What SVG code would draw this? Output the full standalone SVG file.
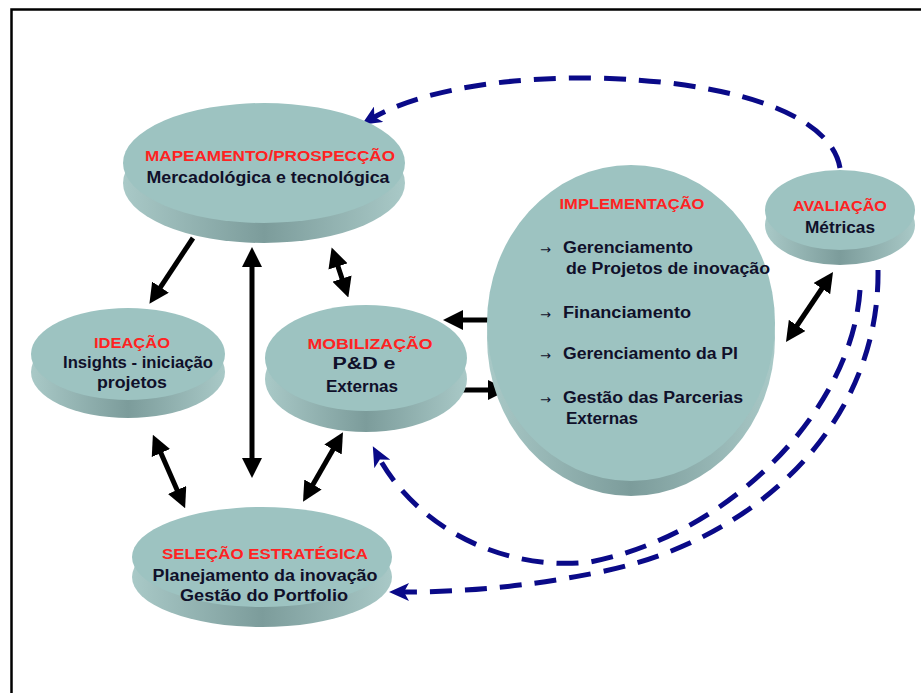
<svg xmlns="http://www.w3.org/2000/svg" width="921" height="693" viewBox="0 0 921 693">
<style>
.face{fill:#9DC3C1}
.rim{fill:url(#rimg)}
.t{font-family:"Liberation Sans",Arial,sans-serif;font-weight:bold;text-anchor:middle}
.red{fill:#FF2222;font-size:14px}
.blk{fill:#10102A;font-size:16px}
.lft{text-anchor:start}
.bul{font-family:"DejaVu Sans",sans-serif;font-size:13px;fill:#10102A}
.ba{stroke:#000;stroke-width:5;fill:none}
.da{stroke:#0A0A88;stroke-width:5;fill:none;stroke-dasharray:22 13}
</style>
<defs>
<linearGradient id="rimg" x1="0" y1="0" x2="1" y2="0">
<stop offset="0" stop-color="#A9C9C7"/>
<stop offset="0.5" stop-color="#7C9C9B"/>
<stop offset="1" stop-color="#A9C9C7"/>
</linearGradient>
<marker id="bh" markerUnits="userSpaceOnUse" markerWidth="20" markerHeight="20" refX="11" refY="10" orient="auto-start-reverse">
<path d="M0,0 L20,10 L0,20 Z" fill="#000"/>
</marker>
<marker id="nh" markerUnits="userSpaceOnUse" markerWidth="20" markerHeight="18" refX="9" refY="9" orient="auto">
<path d="M0,0 L20,9 L0,18 L5,9 Z" fill="#0A0A88"/>
</marker>
</defs>
<rect width="921" height="693" fill="#fff"/>
<path d="M11.5 693 V9.5 H921" fill="none" stroke="#000" stroke-width="2.5"/>

<g id="connectors">
<line class="ba" x1="193" y1="238" x2="154.4" y2="296.3" marker-end="url(#bh)"/>
<line class="ba" x1="252" y1="256" x2="252" y2="469" marker-start="url(#bh)" marker-end="url(#bh)"/>
<line class="ba" x1="334.5" y1="256" x2="345.5" y2="289" marker-start="url(#bh)" marker-end="url(#bh)"/>
<line class="ba" x1="156.5" y1="443" x2="181.5" y2="500" marker-start="url(#bh)" marker-end="url(#bh)"/>
<line class="ba" x1="338.5" y1="440" x2="307.5" y2="494" marker-start="url(#bh)" marker-end="url(#bh)"/>
<line class="ba" x1="488" y1="320" x2="452" y2="320" marker-end="url(#bh)"/>
<line class="ba" x1="462" y1="390" x2="499" y2="390" marker-end="url(#bh)"/>
<line class="ba" x1="828" y1="279.5" x2="791" y2="334.5" marker-start="url(#bh)" marker-end="url(#bh)"/>
<path class="da" d="M840 168 C830 110 720 80 590 78 C480 77 405 98 371 119" marker-end="url(#nh)"/>
<path class="da" d="M860 290 C852 410 730 535 590 562 C500 572 415 525 378 456" marker-end="url(#nh)"/>
<path class="da" d="M878 270 C880 420 760 540 600 572 C520 588 460 592 400 592" marker-end="url(#nh)"/>
</g>

<g id="mapeamento">
<ellipse class="rim" cx="264" cy="183" rx="141" ry="60"/>
<ellipse class="face" cx="264" cy="163" rx="141" ry="60"/>
<text class="t red" x="270" y="161" textLength="250" lengthAdjust="spacingAndGlyphs">MAPEAMENTO/PROSPECÇÃO</text>
<text class="t blk" x="268" y="183" textLength="243" lengthAdjust="spacingAndGlyphs">Mercadológica e tecnológica</text>
</g>

<g id="ideacao">
<ellipse class="rim" cx="128" cy="372" rx="97" ry="46"/>
<ellipse class="face" cx="128" cy="354" rx="97" ry="46"/>
<text class="t red" x="132" y="348" textLength="76" lengthAdjust="spacingAndGlyphs">IDEAÇÃO</text>
<text class="t blk" x="138" y="368" textLength="150" lengthAdjust="spacingAndGlyphs">Insights - iniciação</text>
<text class="t blk" x="132" y="388" textLength="70" lengthAdjust="spacingAndGlyphs">projetos</text>
</g>

<g id="mobilizacao">
<ellipse class="rim" cx="366" cy="379" rx="101" ry="53"/>
<ellipse class="face" cx="366" cy="358" rx="101" ry="53"/>
<text class="t red" x="370" y="349" textLength="125" lengthAdjust="spacingAndGlyphs">MOBILIZAÇÃO</text>
<text class="t blk" x="364" y="369" textLength="63" lengthAdjust="spacingAndGlyphs">P&amp;D e</text>
<text class="t blk" x="362" y="392" textLength="72" lengthAdjust="spacingAndGlyphs">Externas</text>
</g>

<g id="selecao">
<ellipse class="rim" cx="262" cy="577" rx="130" ry="50"/>
<ellipse class="face" cx="262" cy="557" rx="130" ry="50"/>
<text class="t red" x="265" y="559" textLength="206" lengthAdjust="spacingAndGlyphs">SELEÇÃO  ESTRATÉGICA</text>
<text class="t blk" x="265" y="581" textLength="225" lengthAdjust="spacingAndGlyphs">Planejamento da inovação</text>
<text class="t blk" x="264" y="601" textLength="168" lengthAdjust="spacingAndGlyphs">Gestão do Portfolio</text>
</g>

<g id="implementacao">
<ellipse class="rim" cx="631" cy="338" rx="144" ry="158"/>
<ellipse class="face" cx="631" cy="323" rx="144" ry="158"/>
<text class="t red" x="632" y="209" textLength="145" lengthAdjust="spacingAndGlyphs">IMPLEMENTAÇÃO</text>
<text class="bul" x="540" y="254">→</text>
<text class="t blk lft" x="563" y="253" textLength="130" lengthAdjust="spacingAndGlyphs">Gerenciamento</text>
<text class="t blk lft" x="566" y="274" textLength="204" lengthAdjust="spacingAndGlyphs">de Projetos de inovação</text>
<text class="bul" x="540" y="319">→</text>
<text class="t blk lft" x="563" y="318" textLength="128" lengthAdjust="spacingAndGlyphs">Financiamento</text>
<text class="bul" x="540" y="360">→</text>
<text class="t blk lft" x="563" y="359" textLength="175" lengthAdjust="spacingAndGlyphs">Gerenciamento da PI</text>
<text class="bul" x="540" y="404">→</text>
<text class="t blk lft" x="563" y="403" textLength="180" lengthAdjust="spacingAndGlyphs">Gestão das Parcerias</text>
<text class="t blk lft" x="566" y="424" textLength="72" lengthAdjust="spacingAndGlyphs">Externas</text>
</g>

<g id="avaliacao">
<ellipse class="rim" cx="840" cy="225" rx="75" ry="40"/>
<ellipse class="face" cx="840" cy="210" rx="75" ry="40"/>
<text class="t red" x="840" y="211" textLength="94" lengthAdjust="spacingAndGlyphs">AVALIAÇÃO</text>
<text class="t blk" x="840" y="233" textLength="70" lengthAdjust="spacingAndGlyphs">Métricas</text>
</g>
</svg>
